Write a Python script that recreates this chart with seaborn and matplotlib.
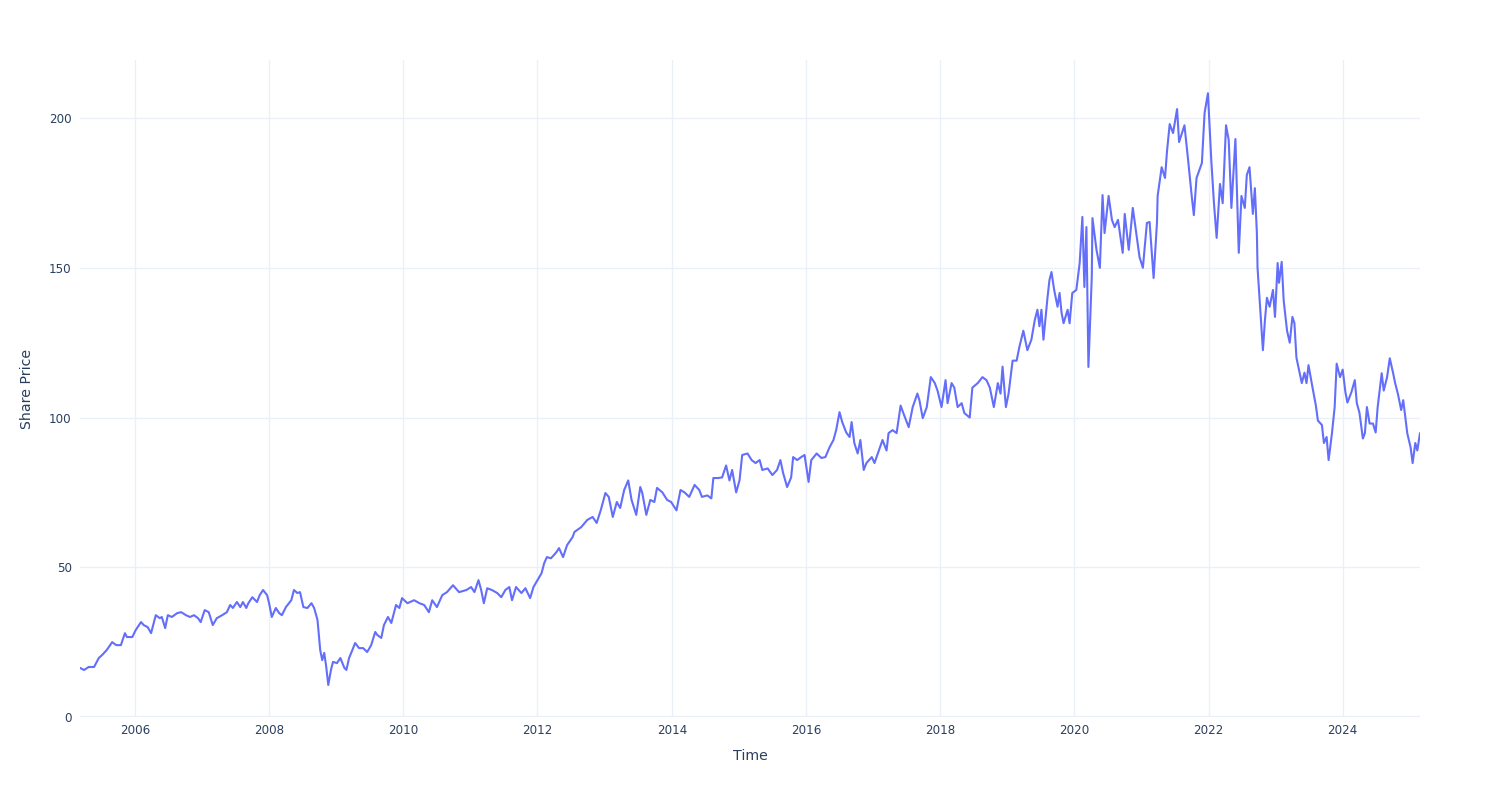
import numpy as np
import pandas as pd
import matplotlib
matplotlib.use("Agg")
import matplotlib.pyplot as plt
import matplotlib.dates as mdates
import seaborn as sns

# ---- data (decimal year, share price) ----
years = [
    2005.18, 2005.24, 2005.31, 2005.39, 2005.46, 2005.51, 2005.58, 2005.66, 2005.72, 2005.79,
    2005.85, 2005.88, 2005.96, 2006.01, 2006.09, 2006.13, 2006.19, 2006.24, 2006.31, 2006.37,
    2006.40, 2006.45, 2006.49, 2006.55, 2006.63, 2006.69, 2006.76, 2006.82, 2006.88, 2006.94,
    2006.98, 2007.04, 2007.10, 2007.16, 2007.22, 2007.30, 2007.37, 2007.42, 2007.46, 2007.52,
    2007.57, 2007.61, 2007.66, 2007.69, 2007.75, 2007.82, 2007.86, 2007.91, 2007.97, 2008.00,
    2008.04, 2008.10, 2008.15, 2008.19, 2008.25, 2008.33, 2008.37, 2008.42, 2008.46, 2008.51,
    2008.57, 2008.63, 2008.67, 2008.72, 2008.76, 2008.79, 2008.82, 2008.85, 2008.88, 2008.92,
    2008.95, 2009.01, 2009.06, 2009.12, 2009.15, 2009.19, 2009.24, 2009.28, 2009.34, 2009.40,
    2009.46, 2009.52, 2009.58, 2009.61, 2009.67, 2009.71, 2009.77, 2009.82, 2009.89, 2009.94,
    2009.98, 2010.06, 2010.16, 2010.24, 2010.31, 2010.38, 2010.43, 2010.50, 2010.58, 2010.65,
    2010.74, 2010.83, 2010.94, 2011.01, 2011.06, 2011.12, 2011.16, 2011.20, 2011.25, 2011.32,
    2011.40, 2011.46, 2011.52, 2011.58, 2011.62, 2011.68, 2011.76, 2011.82, 2011.89, 2011.94,
    2012.00, 2012.06, 2012.10, 2012.14, 2012.20, 2012.28, 2012.32, 2012.38, 2012.44, 2012.52,
    2012.55, 2012.65, 2012.74, 2012.82, 2012.88, 2012.94, 2013.01, 2013.06, 2013.12, 2013.18,
    2013.23, 2013.29, 2013.35, 2013.40, 2013.47, 2013.53, 2013.56, 2013.62, 2013.68, 2013.74,
    2013.78, 2013.86, 2013.93, 2013.99, 2014.07, 2014.13, 2014.19, 2014.26, 2014.34, 2014.41,
    2014.45, 2014.53, 2014.59, 2014.62, 2014.69, 2014.75, 2014.81, 2014.86, 2014.90, 2014.96,
    2015.01, 2015.05, 2015.13, 2015.19, 2015.25, 2015.31, 2015.35, 2015.43, 2015.50, 2015.57,
    2015.62, 2015.66, 2015.72, 2015.78, 2015.81, 2015.87, 2015.93, 2015.98, 2016.04, 2016.08,
    2016.16, 2016.23, 2016.29, 2016.35, 2016.41, 2016.45, 2016.50, 2016.54, 2016.60, 2016.65,
    2016.68, 2016.72, 2016.77, 2016.81, 2016.86, 2016.90, 2016.98, 2017.02, 2017.07, 2017.14,
    2017.20, 2017.23, 2017.29, 2017.35, 2017.41, 2017.45, 2017.53, 2017.59, 2017.66, 2017.69,
    2017.74, 2017.80, 2017.86, 2017.92, 2017.96, 2018.02, 2018.08, 2018.11, 2018.17, 2018.21,
    2018.26, 2018.32, 2018.36, 2018.44, 2018.48, 2018.56, 2018.63, 2018.69, 2018.74, 2018.80,
    2018.86, 2018.90, 2018.93, 2018.98, 2019.02, 2019.08, 2019.14, 2019.18, 2019.24, 2019.30,
    2019.36, 2019.41, 2019.45, 2019.48, 2019.51, 2019.54, 2019.60, 2019.63, 2019.66, 2019.70,
    2019.75, 2019.78, 2019.81, 2019.84, 2019.90, 2019.93, 2019.97, 2020.03, 2020.08, 2020.12,
    2020.15, 2020.18, 2020.21, 2020.26, 2020.27, 2020.33, 2020.38, 2020.42, 2020.45, 2020.51,
    2020.56, 2020.60, 2020.65, 2020.72, 2020.75, 2020.81, 2020.87, 2020.93, 2020.97, 2021.02,
    2021.08, 2021.12, 2021.18, 2021.23, 2021.24, 2021.30, 2021.35, 2021.38, 2021.42, 2021.47,
    2021.53, 2021.56, 2021.64, 2021.69, 2021.75, 2021.78, 2021.82, 2021.90, 2021.94, 2021.99,
    2022.04, 2022.08, 2022.12, 2022.17, 2022.21, 2022.26, 2022.30, 2022.34, 2022.40, 2022.45,
    2022.49, 2022.54, 2022.57, 2022.61, 2022.66, 2022.69, 2022.72, 2022.73, 2022.78, 2022.81,
    2022.84, 2022.87, 2022.91, 2022.96, 2022.99, 2023.03, 2023.05, 2023.09, 2023.12, 2023.17,
    2023.21, 2023.25, 2023.28, 2023.31, 2023.39, 2023.43, 2023.46, 2023.49, 2023.55, 2023.60,
    2023.63, 2023.69, 2023.72, 2023.76, 2023.79, 2023.84, 2023.88, 2023.91, 2023.96, 2024.00,
    2024.04, 2024.07, 2024.13, 2024.18, 2024.21, 2024.25, 2024.30, 2024.33, 2024.36, 2024.40,
    2024.45, 2024.49, 2024.52, 2024.58, 2024.61, 2024.66, 2024.70, 2024.75, 2024.78, 2024.82,
    2024.87, 2024.90, 2024.96, 2025.01, 2025.04, 2025.08, 2025.11, 2025.15,
]
prices = [
    16.4, 15.7, 16.7, 16.7, 19.7, 20.7, 22.4, 25.0, 24.0, 24.0,
    28.0, 26.7, 26.7, 29.0, 31.7, 30.7, 30.0, 28.0, 34.0, 33.0,
    33.4, 29.7, 34.0, 33.4, 34.7, 35.0, 34.0, 33.4, 34.0, 33.0,
    31.7, 35.7, 35.0, 30.7, 33.0, 34.0, 35.0, 37.4, 36.4, 38.4,
    36.7, 38.4, 36.4, 38.0, 40.0, 38.4, 40.7, 42.4, 40.7, 38.0,
    33.4, 36.4, 34.7, 34.0, 36.7, 39.0, 42.4, 41.4, 41.7, 36.7,
    36.4, 38.0, 36.4, 32.4, 22.4, 19.0, 21.4, 16.7, 10.7, 15.7,
    18.4, 18.0, 19.7, 16.4, 15.7, 19.7, 22.4, 24.7, 23.0, 23.0,
    21.7, 24.0, 28.4, 27.4, 26.4, 30.7, 33.4, 31.4, 37.4, 36.4,
    39.7, 38.0, 39.0, 38.0, 37.4, 35.0, 39.0, 36.7, 40.7, 41.7,
    44.0, 41.7, 42.4, 43.4, 41.7, 45.7, 42.4, 38.0, 43.0, 42.4,
    41.4, 40.0, 42.4, 43.4, 39.0, 43.4, 41.4, 43.0, 39.7, 43.4,
    45.7, 48.0, 51.4, 53.4, 53.0, 55.0, 56.4, 53.4, 57.4, 60.0,
    61.8, 63.4, 65.8, 66.8, 64.8, 69.0, 74.8, 73.5, 66.8, 71.8,
    69.8, 75.8, 79.0, 72.5, 67.5, 76.8, 74.8, 67.5, 72.5, 71.8,
    76.5, 75.0, 72.5, 71.8, 69.0, 75.8, 75.0, 73.5, 77.5, 75.8,
    73.5, 74.0, 73.0, 79.8, 79.8, 80.0, 84.0, 79.0, 82.5, 75.0,
    79.0, 87.5, 88.0, 85.8, 84.8, 85.8, 82.5, 83.0, 80.8, 82.5,
    85.8, 81.5, 76.8, 80.0, 86.8, 85.8, 86.8, 87.5, 78.5, 85.8,
    88.0, 86.5, 86.8, 90.0, 92.5, 95.8, 101.8, 98.5, 95.0, 93.5,
    98.5, 91.5, 88.0, 92.5, 82.5, 84.8, 86.8, 84.8, 88.0, 92.5,
    89.0, 94.8, 95.8, 94.8, 104.0, 101.5, 96.8, 103.5, 108.0, 105.8,
    99.8, 103.5, 113.5, 111.5, 109.0, 103.5, 112.5, 104.8, 111.5, 110.0,
    103.5, 104.8, 101.5, 100.0, 110.0, 111.5, 113.5, 112.5, 110.0, 103.5,
    111.5, 108.0, 117.0, 103.5, 108.0, 119.0, 119.0, 123.5, 129.0, 122.5,
    126.0, 132.5, 136.0, 130.5, 136.0, 126.0, 140.0, 146.0, 148.6, 142.6,
    137.0, 141.6, 135.0, 131.5, 136.0, 131.5, 141.6, 142.6, 151.6, 167.0,
    143.6, 163.6, 116.9, 147.0, 166.6, 156.0, 150.0, 174.3, 161.6, 174.0,
    166.0, 163.6, 166.0, 155.0, 168.0, 156.0, 170.0, 160.0, 153.6, 150.0,
    165.0, 165.3, 146.6, 165.0, 174.0, 183.6, 180.0, 189.0, 198.0, 195.0,
    203.0, 192.0, 197.6, 187.0, 173.6, 167.6, 180.0, 185.0, 201.7, 208.3,
    186.0, 171.6, 160.0, 178.0, 171.6, 197.6, 192.7, 170.0, 193.0, 155.0,
    174.0, 170.0, 181.0, 183.6, 168.0, 176.6, 161.6, 150.0, 132.5, 122.5,
    132.5, 140.0, 137.0, 142.6, 133.6, 151.6, 145.0, 152.0, 139.0, 129.0,
    125.0, 133.6, 131.5, 120.0, 111.5, 115.0, 111.5, 117.5, 110.0, 104.0,
    99.0, 97.5, 91.5, 93.5, 85.8, 94.8, 103.5, 118.0, 113.5, 116.0,
    108.5, 105.0, 108.5, 112.5, 104.8, 101.5, 93.0, 94.8, 103.5, 98.0,
    98.0, 95.0, 103.5, 114.8, 109.0, 113.5, 119.8, 114.8, 111.5, 108.0,
    102.5, 105.8, 94.8, 90.0, 84.8, 91.5, 89.0, 94.8,
]
y_ticks = [0, 50, 100, 150, 200]
x_label = "Time"
y_label = "Share Price"


def decimal_year_to_date(y):
    yr = int(np.floor(y))
    start = pd.Timestamp(year=yr, month=1, day=1)
    end = pd.Timestamp(year=yr + 1, month=1, day=1)
    return start + (end - start) * (y - yr)


df = pd.DataFrame({
    "Time": [decimal_year_to_date(v) for v in years],
    "Share Price": prices,
})

sns.set_theme(style="white")
plt.rcParams["font.family"] = ["DejaVu Sans"]

fig = plt.figure(figsize=(15, 8), dpi=100)
ax = fig.add_axes([80 / 1500, 1 - 717 / 800, 1340 / 1500, 657 / 800])
ax.set_facecolor("white")

grid_c = "#EBF0F8"
text_c = "#2a3f5f"

sns.lineplot(data=df, x="Time", y="Share Price", ax=ax, color="#636EFA",
             linewidth=1.5, zorder=3)

ax.set_xlim(df["Time"].iloc[0], df["Time"].iloc[-1])
ax.set_ylim(0, 219.4)
ax.set_yticks(y_ticks)
ax.xaxis.set_major_locator(mdates.YearLocator(2))
ax.xaxis.set_major_formatter(mdates.DateFormatter("%Y"))

ax.grid(True, color=grid_c, linewidth=1, zorder=0)
ax.axhline(0, color=grid_c, linewidth=2.5, zorder=1)
for s in ax.spines.values():
    s.set_visible(False)

ax.tick_params(axis="both", length=0, labelsize=8.6, labelcolor=text_c)
ax.tick_params(axis="y", pad=6)
ax.tick_params(axis="x", pad=5)

ax.set_xlabel(x_label, fontsize=10.2, color=text_c, va="center")
ax.set_ylabel(y_label, fontsize=10.2, color=text_c, va="center")
ax.xaxis.set_label_coords(0.5, (717 - 756) / 657)
ax.yaxis.set_label_coords((27 - 80) / 1340, 0.5)

fig.savefig("out.png", dpi=100, facecolor="white")
